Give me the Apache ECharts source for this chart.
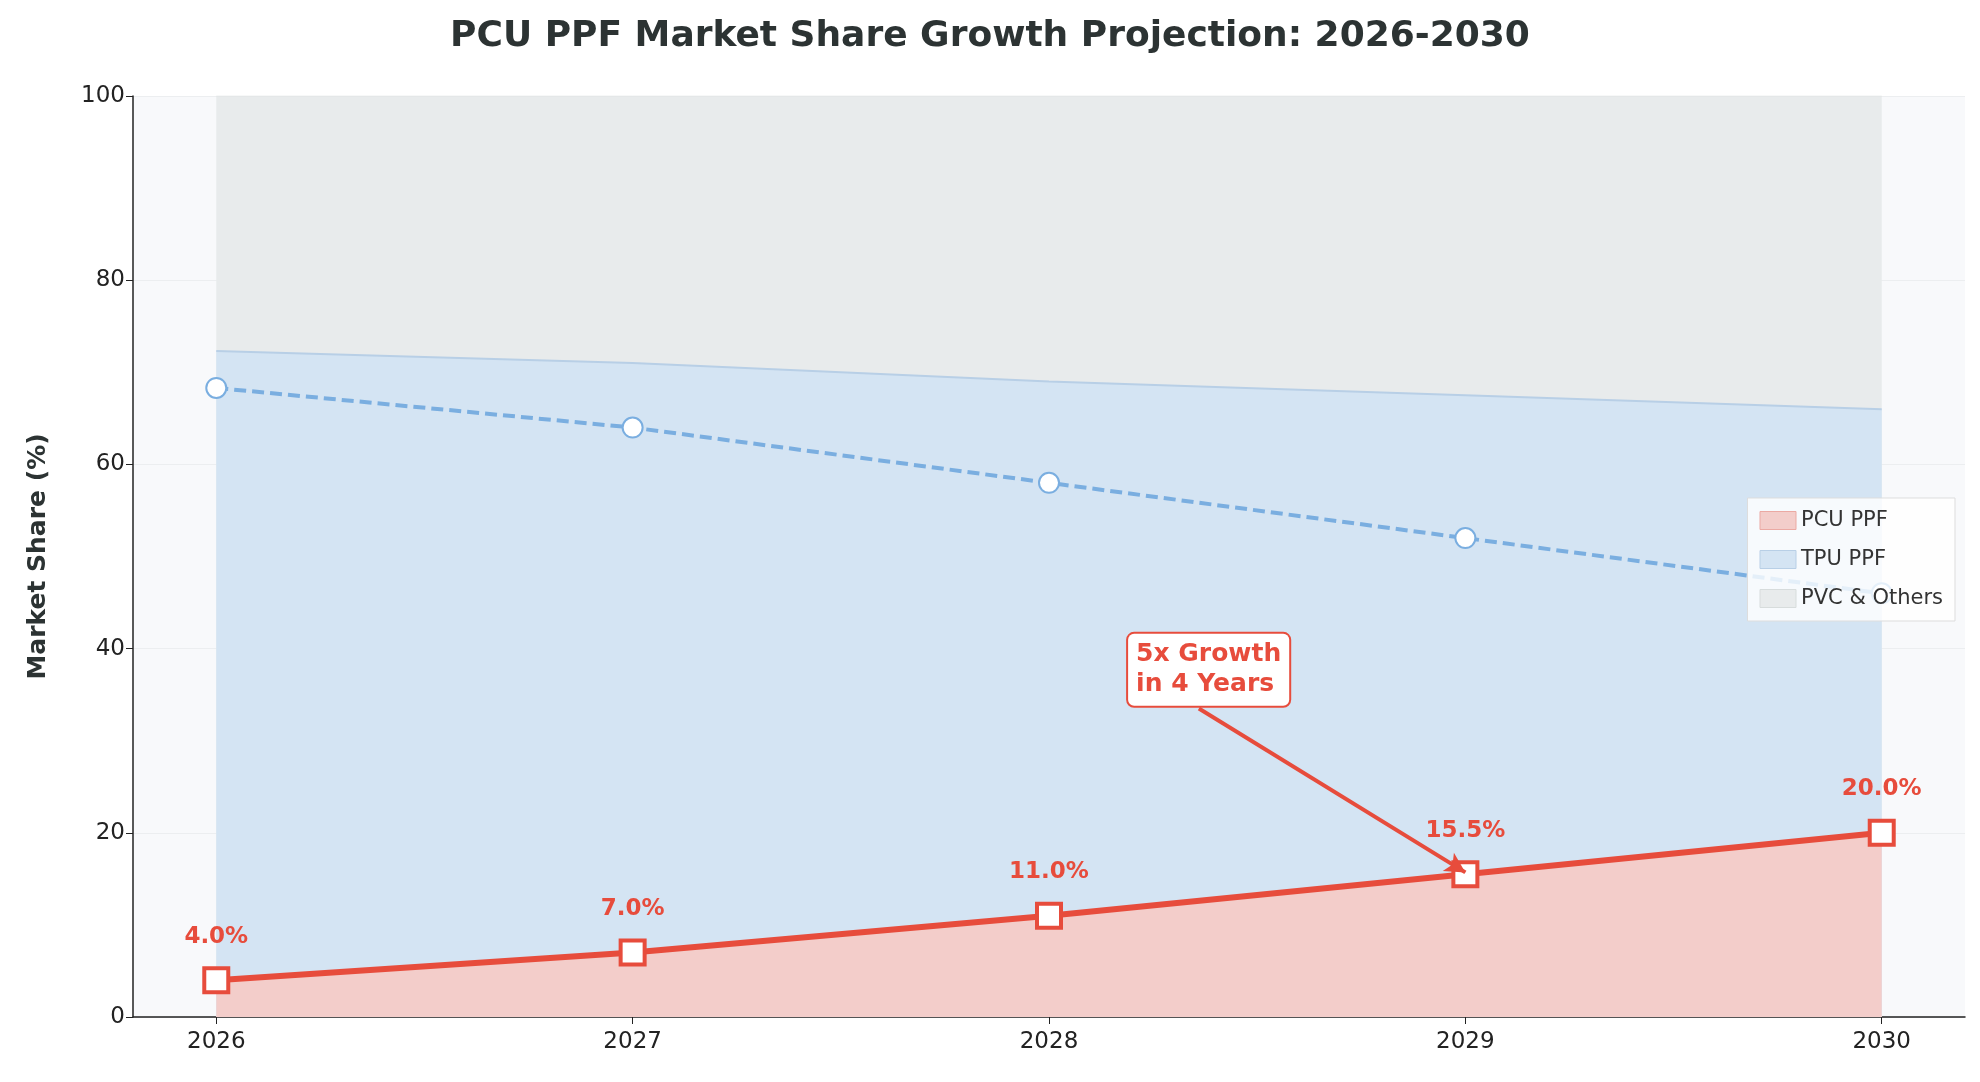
<!DOCTYPE html>
<html><head><meta charset="utf-8">
<script src="https://cdn.jsdelivr.net/npm/echarts@6/dist/echarts.min.js"></script>
<style>html,body{margin:0;background:#fff}#c{width:1980px;height:1082px}</style>
</head><body><div id="c"></div>
<script>
const years = ['2026','2027','2028','2029','2030'];
const pcu = [4.0, 7.0, 11.0, 15.5, 20.0];
const tpu = [68.3, 64.0, 58.0, 52.0, 46.0];
const pvc = [27.7, 29.0, 31.0, 32.5, 34.0];
const yTicks = [0, 20, 40, 60, 80, 100];

const idx = years.map((_, i) => i);
const pt = arr => arr.map((v, i) => [i, v]);
const cumTpu = pcu.map((v, i) => v + tpu[i]);
const cumAll = pcu.map((v, i) => v + tpu[i] + pvc[i]);
const font = 'DejaVu Sans';
const red = '#e74c3c';
const chart = echarts.init(document.getElementById('c'));
chart.setOption({
  animation: false,
  textStyle: { fontFamily: font },
  title: { text: 'PCU PPF Market Share Growth Projection: 2026-2030', left: 'center', top: 14,
    textStyle: { fontSize: 36, fontWeight: 'bold', color: '#2c3333', fontFamily: font } },
  grid: { left: 133, right: 15, top: 96, bottom: 65, show: true, backgroundColor: '#f8f9fb', borderWidth: 0 },
  legend: { right: 25, top: 498, orient: 'vertical', itemWidth: 36, itemHeight: 18, itemGap: 18,
    backgroundColor: 'rgba(255,255,255,0.8)', borderColor: '#ddd', borderWidth: 1, padding: [12, 12],
    textStyle: { fontSize: 21, color: '#333' },
    data: [
      { name: 'PCU PPF', icon: 'rect', itemStyle: { color: '#f3cdca', borderColor: '#eba9a3', borderWidth: 1 } },
      { name: 'TPU PPF', icon: 'rect', itemStyle: { color: '#d4e4f3', borderColor: '#b8cfe6', borderWidth: 1 } },
      { name: 'PVC & Others', icon: 'rect', itemStyle: { color: '#e8ebec', borderColor: '#d7dcdc', borderWidth: 1 } }
    ] },
  xAxis: { type: 'value', min: -0.2, max: 4.2,
    axisLine: { onZero: false, lineStyle: { color: '#222', width: 1.5 } },
    axisTick: { customValues: idx, length: 7, lineStyle: { color: '#222' } },
    axisLabel: { customValues: idx, formatter: v => years[Math.round(v)], fontSize: 23, color: '#222', margin: 14 },
    splitLine: { show: false } },
  yAxis: { type: 'value', min: 0, max: 100, interval: 20, name: 'Market Share (%)', nameLocation: 'middle', nameGap: 82,
    nameTextStyle: { fontSize: 25, fontWeight: 'bold', color: '#2c3333' },
    axisLine: { show: true, onZero: false, lineStyle: { color: '#222', width: 1.5 } },
    axisTick: { show: true, length: 7, lineStyle: { color: '#222' } },
    axisLabel: { fontSize: 23, color: '#222', formatter: v => yTicks.includes(v) ? v : '' },
    splitLine: { lineStyle: { color: '#eceef0', width: 1 } } },
  series: [
    { name: 'PVC & Others', type: 'line', data: pt(cumAll), symbol: 'none', lineStyle: { color: '#dfe3e4', width: 1 },
      areaStyle: { color: '#e8ebec', opacity: 1, origin: 'start' }, z: 1 },
    { name: 'TPU PPF', type: 'line', data: pt(cumTpu), symbol: 'none', lineStyle: { color: '#b8cfe6', width: 2 },
      areaStyle: { color: '#d4e4f3', opacity: 1, origin: 'start' }, z: 1 },
    { name: 'PCU PPF', type: 'line', data: pt(pcu), symbol: 'none', lineStyle: { width: 0 },
      areaStyle: { color: '#f3cdca', opacity: 1, origin: 'start' }, z: 1 },
    { name: 'TPU line', type: 'line', data: pt(tpu), symbol: 'circle', symbolSize: 20,
      lineStyle: { color: '#7aaee0', width: 4, type: [12, 6] },
      itemStyle: { color: '#fff', borderColor: '#7aaee0', borderWidth: 2 }, z: 3 },
    { name: 'PCU line', type: 'line', data: pt(pcu), symbol: 'rect', symbolSize: 24,
      lineStyle: { color: red, width: 6 },
      itemStyle: { color: '#fff', borderColor: red, borderWidth: 4 }, z: 4,
      label: { show: true, position: 'top', distance: 18, formatter: p => p.value[1].toFixed(1) + '%',
        color: red, fontSize: 23, fontWeight: 'bold' },
      markLine: { silent: true, symbol: ['none', 'arrow'], symbolSize: [16, 20],
        lineStyle: { color: red, width: 4, type: 'solid' }, label: { show: false },
        data: [[{ coord: [2.36, 33.5] }, { coord: [3.0, 15.7] }]] },
      markPoint: { symbol: 'rect', symbolSize: 1, itemStyle: { color: 'transparent' },
        data: [{ coord: [2.19, 37.7], label: { show: true, position: 'inside', formatter: '5x Growth\nin 4 Years',
          color: red, fontSize: 25, fontWeight: 'bold', lineHeight: 30, align: 'left',
          backgroundColor: '#fff', borderColor: red, borderWidth: 2, borderRadius: 6, padding: [6, 8] } }] } }
  ]
});
</script></body></html>
